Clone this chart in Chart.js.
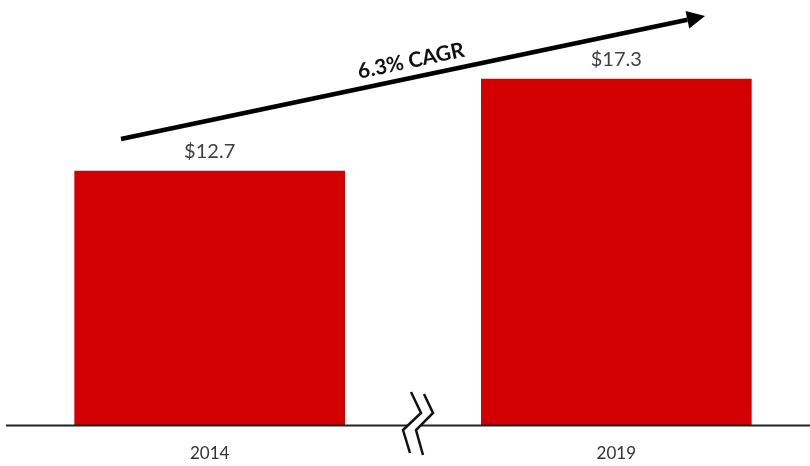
<!DOCTYPE html>
<html>
<head>
<meta charset="utf-8">
<script src="https://cdn.jsdelivr.net/npm/chart.js@4/dist/chart.umd.min.js"></script>
<style>
  html, body { margin: 0; padding: 0; background: #fff; }
  #wrap { width: 810px; height: 466px; }
</style>
</head>
<body>
<div id="wrap"><canvas id="marketChart" width="810" height="466"></canvas></div>
<script>
// 数据
const years = ["2014", "", "2019"];          // 中间一格留空，放断轴符号
const marketSize = [12.7, null, 17.3];       // 单位：十亿美元
const valueLabels = ["$12.7", "", "$17.3"];
const cagrText = "6.3% CAGR";

const FONT = "Lato, 'Open Sans', sans-serif";

// 柱顶数值
const valueLabelPlugin = {
    id: "valueLabels",
    afterDatasetsDraw(chart) {
        const ctx = chart.ctx;
        const meta = chart.getDatasetMeta(0);
        ctx.save();
        ctx.font = "20px " + FONT;
        ctx.fillStyle = "#404040";
        ctx.textAlign = "center";
        ctx.textBaseline = "bottom";
        meta.data.forEach((bar, i) => {
            if (marketSize[i] == null) return;
            ctx.fillText(valueLabels[i], bar.x, bar.y - 9);
        });
        ctx.restore();
    }
};

// 底线、断轴符号、增长箭头
const decorPlugin = {
    id: "decor",
    afterDraw(chart) {
        const ctx = chart.ctx;
        const base = chart.scales.y.getPixelForValue(0);
        const midX = chart.scales.x.getPixelForValue(1);

        ctx.save();
        // 底线
        ctx.strokeStyle = "#222";
        ctx.lineWidth = 2;
        ctx.beginPath();
        ctx.moveTo(6, base + 0.5);
        ctx.lineTo(chart.width, base + 0.5);
        ctx.stroke();

        // 断轴符号
        const z1 = [[-2, -33], [8, -12], [-10, 5], [-3, 28]];
        const z2 = [[11, -31], [20, -12], [3, 5], [10, 30]];
        ctx.fillStyle = "#fff";
        ctx.beginPath();
        z1.forEach((p, i) => i ? ctx.lineTo(midX + p[0], base + p[1]) : ctx.moveTo(midX + p[0], base + p[1]));
        z2.slice().reverse().forEach(p => ctx.lineTo(midX + p[0], base + p[1]));
        ctx.closePath();
        ctx.fill();
        ctx.strokeStyle = "#111";
        ctx.lineWidth = 2.5;
        [z1, z2].forEach(z => {
            ctx.beginPath();
            z.forEach((p, i) => i ? ctx.lineTo(midX + p[0], base + p[1]) : ctx.moveTo(midX + p[0], base + p[1]));
            ctx.stroke();
        });

        // 增长箭头
        const x0 = 121, y0 = 139, x1 = 705, y1 = 16;
        const ang = Math.atan2(y1 - y0, x1 - x0);
        const headLen = 18, headW = 9;
        const bx = x1 - headLen * Math.cos(ang), by = y1 - headLen * Math.sin(ang);
        ctx.strokeStyle = "#000";
        ctx.lineWidth = 4.5;
        ctx.lineCap = "butt";
        ctx.beginPath();
        ctx.moveTo(x0, y0);
        ctx.lineTo(bx, by);
        ctx.stroke();
        ctx.fillStyle = "#000";
        ctx.beginPath();
        ctx.moveTo(x1, y1);
        ctx.lineTo(bx + headW * Math.sin(ang), by - headW * Math.cos(ang));
        ctx.lineTo(bx - headW * Math.sin(ang), by + headW * Math.cos(ang));
        ctx.closePath();
        ctx.fill();

        // CAGR 文字
        ctx.translate(411, 61);
        ctx.rotate(ang);
        ctx.font = "bold 21px " + FONT;
        ctx.fillStyle = "#111";
        ctx.textAlign = "center";
        ctx.textBaseline = "middle";
        ctx.fillText(cagrText, 0, 0);
        ctx.restore();
    }
};

const chartCtx = document.getElementById("marketChart").getContext("2d");
const marketChart = new Chart(chartCtx, {
    type: "bar",
    data: {
        labels: years,
        datasets: [{
            data: marketSize,
            backgroundColor: "#d20000",
            borderWidth: 0,
            barThickness: 270,
            clip: false,
        }, ],
    },
    options: {
        responsive: false,
        animation: false,
        layout: {
            padding: { left: 108, right: 92, top: 25, bottom: 4 },
        },
        plugins: {
            legend: { display: false },
            tooltip: { enabled: false },
        },
        scales: {
            x: {
                grid: { display: false, drawTicks: false },
                border: { display: false },
                afterFit(scale) { scale.height = 37; },
                ticks: {
                    padding: 18,
                    color: "#333",
                    font: { family: FONT, size: 17 },
                },
            },
            y: {
                display: false,
                min: 0,
                max: 20,
            },
        },
    },
    plugins: [valueLabelPlugin, decorPlugin],
});
</script>
</body>
</html>
